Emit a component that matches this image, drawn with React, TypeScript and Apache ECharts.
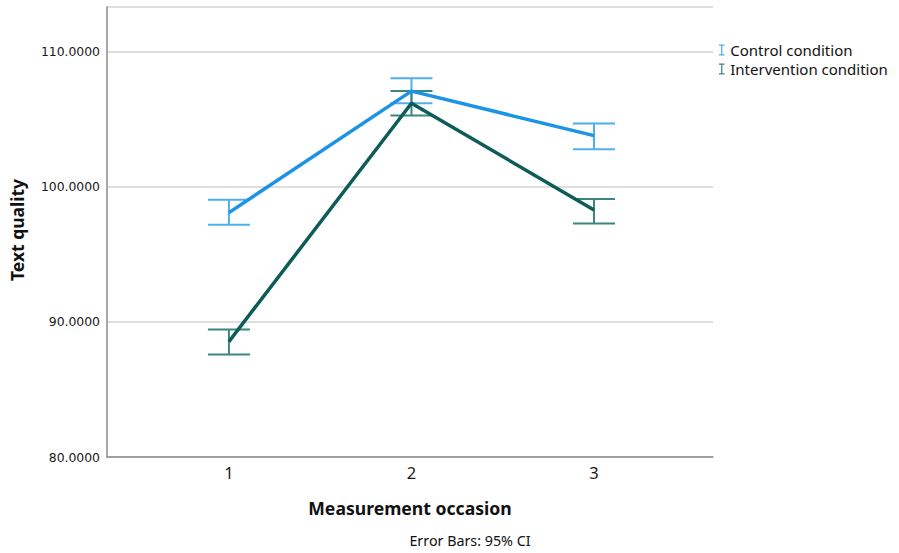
import React, { useEffect, useRef } from "react";
import * as echarts from "echarts";

const occasions = [1, 2, 3];
const controlMean = [98.1, 107.1, 103.8];
const controlLow = [97.2, 106.2, 102.8];
const controlHigh = [99.05, 108.05, 104.7];
const interventionMean = [88.55, 106.2, 98.3];
const interventionLow = [87.6, 105.3, 97.3];
const interventionHigh = [89.45, 107.1, 99.1];
const yTicks = [80, 90, 100, 110];
const seriesNames = ["Control condition", "Intervention condition"];

const C_LINE = "#1c93e6";
const C_ERR = "#4cb0ec";
const I_LINE = "#0e5c59";
const I_ERR = "#3a8782";

const ICON = "path://M0,0H8V1.8H4.9V14.2H8V16H0V14.2H3.1V1.8H0Z";

function errRender(color: string) {
  return (params: any, api: any) => {
    const x = api.value(0);
    const lo = api.value(1);
    const hi = api.value(2);
    const pHi = api.coord([x, hi]);
    const pLo = api.coord([x, lo]);
    const half = 21;
    const style = { stroke: color, lineWidth: 2, fill: null };
    return {
      type: "group",
      children: [
        { type: "line", shape: { x1: pHi[0], y1: pHi[1], x2: pLo[0], y2: pLo[1] }, style },
        { type: "line", shape: { x1: pHi[0] - half, y1: pHi[1], x2: pHi[0] + half, y2: pHi[1] }, style },
        { type: "line", shape: { x1: pLo[0] - half, y1: pLo[1], x2: pLo[0] + half, y2: pLo[1] }, style },
      ],
    };
  };
}

export default function App() {
  const ref = useRef<HTMLDivElement>(null);
  useEffect(() => {
    if (!ref.current) return;
    const chart = echarts.init(ref.current, undefined, { renderer: "svg" });
    const axisColor = "#8a8a8a";
    chart.setOption({
      animation: false,
      backgroundColor: "#ffffff",
      grid: { left: 107, top: 7, width: 606, bottom: 96 },
      xAxis: {
        type: "value",
        min: 0.332,
        max: 3.652,
        axisLine: { show: true, lineStyle: { color: axisColor, width: 1.5 } },
        axisTick: { show: false },
        splitLine: { show: false },
        axisLabel: {
          customValues: occasions,
          formatter: (v: number) => String(v),
          fontFamily: "Noto Sans",
          fontSize: 16.5,
          color: "#1a1a1a",
          margin: 7,
        },
      },
      yAxis: {
        type: "value",
        min: yTicks[0],
        max: 113.33,
        interval: 10,
        axisLine: { show: true, lineStyle: { color: axisColor, width: 1.5 } },
        axisTick: { show: false },
        splitLine: { show: true, lineStyle: { color: "#d3d3d3", width: 1.5 } },
        axisLabel: {
          customValues: yTicks,
          formatter: (v: number) => v.toFixed(4),
          fontFamily: "DejaVu Sans",
          fontSize: 12.4,
          color: "#1a1a1a",
          margin: 7,
        },
      },
      legend: {
        orient: "vertical",
        left: 719,
        top: 41,
        padding: 0,
        itemWidth: 7,
        itemHeight: 11,
        itemGap: 1,
        textStyle: { fontFamily: "Noto Sans", fontSize: 15, lineHeight: 18, color: "#111" },
        data: [
          { name: seriesNames[0], icon: ICON, itemStyle: { color: C_ERR } },
          { name: seriesNames[1], icon: ICON, itemStyle: { color: I_ERR } },
        ],
      },
      series: [
        {
          name: seriesNames[0] + "_err",
          type: "custom",
          renderItem: errRender(C_ERR),
          data: occasions.map((o, i) => [o, controlLow[i], controlHigh[i]]),
          z: 2,
        },
        {
          name: seriesNames[1] + "_err",
          type: "custom",
          renderItem: errRender(I_ERR),
          data: occasions.map((o, i) => [o, interventionLow[i], interventionHigh[i]]),
          z: 2,
        },
        {
          name: seriesNames[0],
          type: "line",
          data: occasions.map((o, i) => [o, controlMean[i]]),
          showSymbol: false,
          lineStyle: { color: C_LINE, width: 3.5 },
          itemStyle: { color: C_LINE },
          z: 3,
        },
        {
          name: seriesNames[1],
          type: "line",
          data: occasions.map((o, i) => [o, interventionMean[i]]),
          showSymbol: false,
          lineStyle: { color: I_LINE, width: 3.5 },
          itemStyle: { color: I_LINE },
          z: 4,
        },
      ],
      graphic: [
        {
          type: "text",
          x: 17,
          y: 230,
          rotation: Math.PI / 2,
          style: {
            text: "Text quality",
            fontFamily: "Noto Sans",
            fontWeight: "bold",
            fontSize: 17.5,
            fill: "#111",
            align: "center",
            verticalAlign: "middle",
          },
        },
        {
          type: "text",
          x: 410,
          y: 508,
          style: {
            text: "Measurement occasion",
            fontFamily: "Noto Sans",
            fontWeight: "bold",
            fontSize: 17.6,
            fill: "#111",
            align: "center",
            verticalAlign: "middle",
          },
        },
        {
          type: "text",
          x: 470,
          y: 540,
          style: {
            text: "Error Bars: 95% CI",
            fontFamily: "Noto Sans",
            fontSize: 14.3,
            fill: "#111",
            align: "center",
            verticalAlign: "middle",
          },
        },
      ],
    });
    return () => chart.dispose();
  }, []);
  return <div ref={ref} style={{ width: 899, height: 553, position: "absolute", left: 0, top: 0 }} />;
}
